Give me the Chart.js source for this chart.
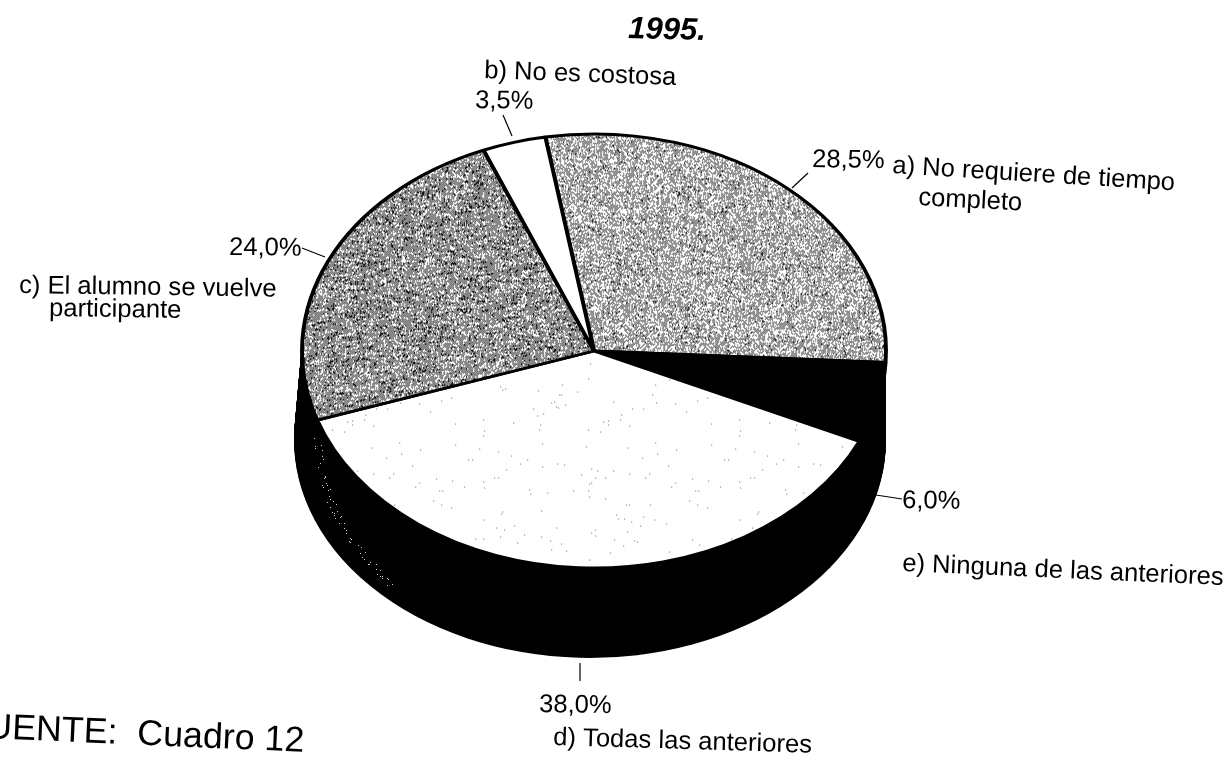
<!DOCTYPE html>
<html>
<head>
<meta charset="utf-8">
<title>1995</title>
<script src="https://cdn.jsdelivr.net/npm/chart.js@4/dist/chart.umd.min.js"></script>
<style>
    html, body { margin: 0; padding: 0; background: #fff; overflow: hidden; }
    canvas { display: block; }
</style>
</head>
<body>
<canvas id="pieChart" width="1228" height="757"></canvas>
<script>
// clockwise from the top of the pie
const categories = ['a', 'e', 'd', 'c', 'b'];
const values = [28.5, 6.0, 38.0, 24.0, 3.5];
const categoryLines = [
    ['a) No requiere de tiempo', 'completo'],
    ['e) Ninguna de las anteriores'],
    ['d) Todas las anteriores'],
    ['c) El alumno se vuelve', 'participante'],
    ['b) No es costosa']
];
const titleText = '1995.';
const sourceText = 'FUENTE:  Cuadro 12';

const startAngleDeg = -9.6;

// where the pie sits on the page (top face and bottom rim)
const topFace = { x: 594, y: 351, rx: 292, ry: 217 };
const bottomRim = { x: 590, y: 440, rx: 296, ry: 218 };

// label placement, same order as categories: [x, baseline, rotation in degrees]
const percentPos = [[812, 167, 1], [902, 508, 1], [539, 712, 1], [229, 255, 0.5], [475, 108, 1]];
const linePos = [
    [[892, 173, 3.5], [918, 205, 3]],
    [[902, 571, 2.5]],
    [[553, 745, 1.7]],
    [[19, 293, 0.8], [49, 316, 0.8]],
    [[484, 78, 2.1]]
];
const leaders = [
    [[808, 173], [792, 188]],
    [[876, 495], [902, 499]],
    [[580, 663], [580, 681]],
    [[302, 248], [325, 257]],
    [[503, 115], [512, 136]]
];

// scanned-looking stipple, a hash so it comes out the same on every run
function hash(x, y) {
    const s = Math.sin(x * 12.9898 + y * 78.233) * 43758.5453;
    return s - Math.floor(s);
}

function stipple(on, off, streak, ink, size) {
    const c = document.createElement('canvas');
    c.width = size;
    c.height = size;
    const g = c.getContext('2d');
    g.fillStyle = '#fff';
    g.fillRect(0, 0, size, size);
    g.fillStyle = ink;
    for (let y = 0; y < size; y++) {
        for (let x = 0; x < size; x++) {
            const band = hash(Math.floor((x + y) / 9), Math.floor(y / 2)) - 0.5;
            const p = ((x + y) % 2 === 0 ? on : off) + streak * band;
            if (hash(x + 3, y + 11) < p) g.fillRect(x, y, 1, 1);
        }
    }
    return g.createPattern(c, 'repeat');
}

const patternA = stipple(0.62, 0.04, 0.12, '#222', 256);
const patternC = stipple(0.78, 0.1, 0.3, '#111', 256);
const patternD = stipple(0.002, 0.002, 0.012, '#666', 256);
const fills = [patternA, '#000', patternD, patternC, '#fff'];

const pie3d = {
    id: 'pie3d',
    beforeDatasetsDraw(chart) {
        const ctx = chart.ctx;
        const arcs = chart.getDatasetMeta(0).data;
        const r = arcs[0].outerRadius;
        const sx = topFace.rx / r;
        const sy = topFace.ry / r;

        // the wall: the slices stacked from the bottom rim up to the top face
        ctx.save();
        ctx.fillStyle = '#000';
        const depth = bottomRim.y - topFace.y;
        for (let i = depth; i >= 0; i--) {
            const t = i / depth;
            const ex = topFace.x + (bottomRim.x - topFace.x) * t;
            const ey = topFace.y + (bottomRim.y - topFace.y) * t;
            const erx = topFace.rx + (bottomRim.rx - topFace.rx) * t;
            const ery = topFace.ry + (bottomRim.ry - topFace.ry) * t;
            arcs.forEach(arc => {
                ctx.beginPath();
                ctx.moveTo(ex, ey);
                ctx.ellipse(ex, ey, erx, ery, 0, arc.startAngle, arc.endAngle);
                ctx.closePath();
                ctx.fill();
            });
        }

        // a few white flecks just inside the rim on the left of the wall
        ctx.fillStyle = '#ccc';
        for (let a = 0; a < 90; a++) {
            if (hash(a, 9) < 0.4) continue;
            const phi = a * 0.48 * Math.PI / 180;
            const fx = bottomRim.x - (bottomRim.rx - 24) * Math.cos(phi) + (hash(a, 5) - 0.5) * 9;
            const fy = bottomRim.y + (bottomRim.ry - 8) * Math.sin(phi) + (hash(a, 7) - 0.5) * 5;
            ctx.fillRect(Math.round(fx), Math.round(fy), 1, 1);
        }
        ctx.restore();

        // flatten the pie; the stipple stays on the page's pixel grid
        const undo = new DOMMatrix().scale(1 / sx, 1 / sy);
        [patternA, patternC, patternD].forEach(p => p.setTransform(undo));
        ctx.save();
        ctx.translate(topFace.x, topFace.y);
        ctx.scale(sx, sy);
        ctx.translate(-arcs[0].x, -arcs[0].y);
    },
    afterDatasetsDraw(chart) {
        chart.ctx.restore();
    },
    afterDraw(chart) {
        const ctx = chart.ctx;
        ctx.save();
        ctx.fillStyle = '#000';
        ctx.strokeStyle = '#000';
        ctx.textBaseline = 'alphabetic';
        ctx.textAlign = 'left';

        ctx.lineWidth = 1.2;
        leaders.forEach(l => {
            ctx.beginPath();
            ctx.moveTo(l[0][0], l[0][1]);
            ctx.lineTo(l[1][0], l[1][1]);
            ctx.stroke();
        });

        const put = (text, x, y, deg) => {
            ctx.save();
            ctx.translate(x, y);
            ctx.rotate(deg * Math.PI / 180);
            ctx.fillText(text, 0, 0);
            ctx.restore();
        };

        ctx.font = '25.6px "Liberation Sans"';
        values.forEach((v, i) => {
            const pos = percentPos[i];
            put(v.toFixed(1).replace('.', ',') + '%', pos[0], pos[1], pos[2]);
            categoryLines[i].forEach((line, j) => {
                const p = linePos[i][j];
                put(line, p[0], p[1], p[2]);
            });
        });

        ctx.font = 'italic bold 31px "Liberation Sans"';
        put(titleText, 628, 38, 1.5);

        ctx.font = '35.8px "Liberation Sans"';
        put(sourceText, -36, 737, 2.5);
        ctx.restore();
    }
};

new Chart(document.getElementById('pieChart'), {
    type: 'pie',
    data: {
        labels: categories,
        datasets: [{
            data: values,
            backgroundColor: fills,
            borderColor: '#000',
            borderWidth: 5,
            clip: false
        }]
    },
    options: {
        responsive: false,
        animation: false,
        rotation: startAngleDeg,
        layout: { padding: 0 },
        plugins: {
            legend: { display: false },
            tooltip: { enabled: false }
        }
    },
    plugins: [pie3d]
});
</script>
</body>
</html>
